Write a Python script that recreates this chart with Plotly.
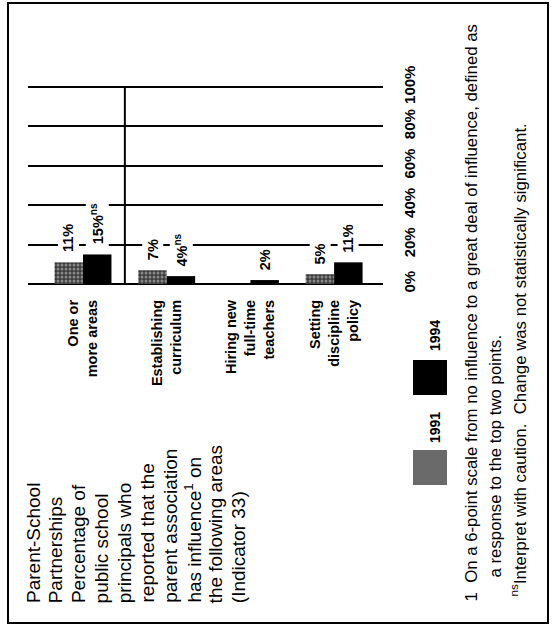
import plotly.graph_objects as go

# ---------------- data ----------------
categories = ["One or<br>more areas", "Establishing<br>curriculum",
              "Hiring new<br>full-time<br>teachers", "Setting<br>discipline<br>policy"]
series_names = ["1991", "1994"]
values_1991 = [11, 7, None, 5]
values_1994 = [15, 4, 2, 11]
labels_1991 = ["11%", "7%", "", "5%"]
labels_1994 = ["15%<sup>ns</sup>", "4%<sup>ns</sup>", "2%", "11%"]
y_tickvals = [0, 20, 40, 60, 80, 100]
y_ticktext = ["0%", "20%", "40%", "60%", "80%", "100%"]
title_lines = ["Parent-School", "Partnerships", "Percentage of", "public school",
               "principals who", "reported that the", "parent association",
               "has influence<sup>1</sup> on", "the following areas", "(Indicator 33)"]
footnote_lines = ["1\u00a0\u00a0On a 6-point scale from no influence to a great deal of influence, defined as",
                  "a response to the top two points.",
                  "<sup>ns</sup>Interpret with caution.\u00a0\u00a0Change was not statistically significant."]

# ---------------- styling ----------------
W, H = 552, 627
FONT = "Liberation Sans, Arial, sans-serif"
Y_TOP = 102  # axis range top (100% gridline sits just inside)


def px(x):
    return x / W


def py(y):
    return 1 - y / H


fig = go.Figure()
fig.add_trace(go.Bar(
    x=categories, y=values_1991, name=series_names[0],
    marker=dict(color="#3a3a3a", line=dict(width=0),
                pattern=dict(shape=".", fgcolor="#d8d8d8", size=4, solidity=0.45)),
    hoverinfo="skip"))
fig.add_trace(go.Bar(
    x=categories, y=values_1994, name=series_names[1],
    marker=dict(color="black", line=dict(width=0)), hoverinfo="skip"))

annotations = []
# value labels
half = 14.25
for lbls, vals, shift in [(labels_1991, values_1991, -half), (labels_1994, values_1994, half)]:
    for c, v, t in zip(categories, vals, lbls):
        if v is None or not t:
            continue
        annotations.append(dict(x=c, y=v, xref="x", yref="y", text=t, showarrow=False,
                                textangle=-90, xanchor="center", yanchor="bottom",
                                xshift=shift, yshift=7, bgcolor="white", borderpad=2,
                                font=dict(family=FONT, size=14.5, color="black", weight=700)))

# title lines
for i, line in enumerate(title_lines):
    annotations.append(dict(x=px(33 + i * 22.8), y=py(605), xref="paper", yref="paper",
                            text=line, showarrow=False, textangle=-90,
                            xanchor="center", yanchor="bottom",
                            font=dict(family=FONT, size=19, color="black")))

# footnote lines
foot_x = [471, 495, 518]
foot_y = [604, 580, 599]
for line, fx, fy in zip(footnote_lines, foot_x, foot_y):
    annotations.append(dict(x=px(fx), y=py(fy), xref="paper", yref="paper",
                            text=line, showarrow=False, textangle=-90,
                            xanchor="center", yanchor="bottom",
                            font=dict(family=FONT, size=16.8, color="black")))

# legend labels
for name, ly in zip(series_names, [427, 335]):
    annotations.append(dict(x=px(435), y=py(ly), xref="paper", yref="paper",
                            text=name, showarrow=False, textangle=-90,
                            xanchor="center", yanchor="middle",
                            font=dict(family=FONT, size=14, color="black", weight=700)))

shapes = [
    # outer frame
    dict(type="rect", xref="paper", yref="paper", x0=px(8), x1=px(548), y0=py(623), y1=py(3),
         line=dict(color="black", width=2), layer="below"),
    # divider between first and second category
    dict(type="line", xref="x", yref="y", x0=0.5, x1=0.5, y0=0, y1=100,
         line=dict(color="black", width=2)),
    # legend swatches
    dict(type="rect", xref="paper", yref="paper", x0=px(413), x1=px(447), y0=py(485), y1=py(450),
         fillcolor="#6a6a6a", line=dict(width=0)),
    dict(type="rect", xref="paper", yref="paper", x0=px(413), x1=px(447), y0=py(395), y1=py(360),
         fillcolor="black", line=dict(width=0)),
]

plot_h = 197 * Y_TOP / 100
fig.update_layout(
    width=W, height=H, margin=dict(l=0, r=0, t=0, b=0, autoexpand=False),
    paper_bgcolor="white", plot_bgcolor="white",
    barmode="group", bargap=0.32, bargroupgap=0,
    showlegend=False,
    font=dict(family=FONT, color="black"),
    xaxis=dict(domain=[px(28), px(383)], type="category", range=[-0.657, 3.584],
               tickangle=-90, showgrid=False, zeroline=False, showline=False, ticks="",
               ticklabelstandoff=12, automargin=False,
               tickfont=dict(family=FONT, size=14.5, color="black", weight=700)),
    yaxis=dict(domain=[py(284), py(284 - plot_h)], range=[0, Y_TOP], side="right",
               tickvals=y_tickvals, ticktext=y_ticktext, tickangle=-90,
               showgrid=True, gridcolor="black", gridwidth=2,
               zeroline=True, zerolinecolor="black", zerolinewidth=2,
               showline=False, ticks="", ticklabelstandoff=16, automargin=False,
               tickfont=dict(family=FONT, size=15, color="black", weight=700)),
    annotations=annotations, shapes=shapes,
)

fig.write_html("out.html", config={"displayModeBar": False},
               post_script="document.body.style.margin='0px';")
